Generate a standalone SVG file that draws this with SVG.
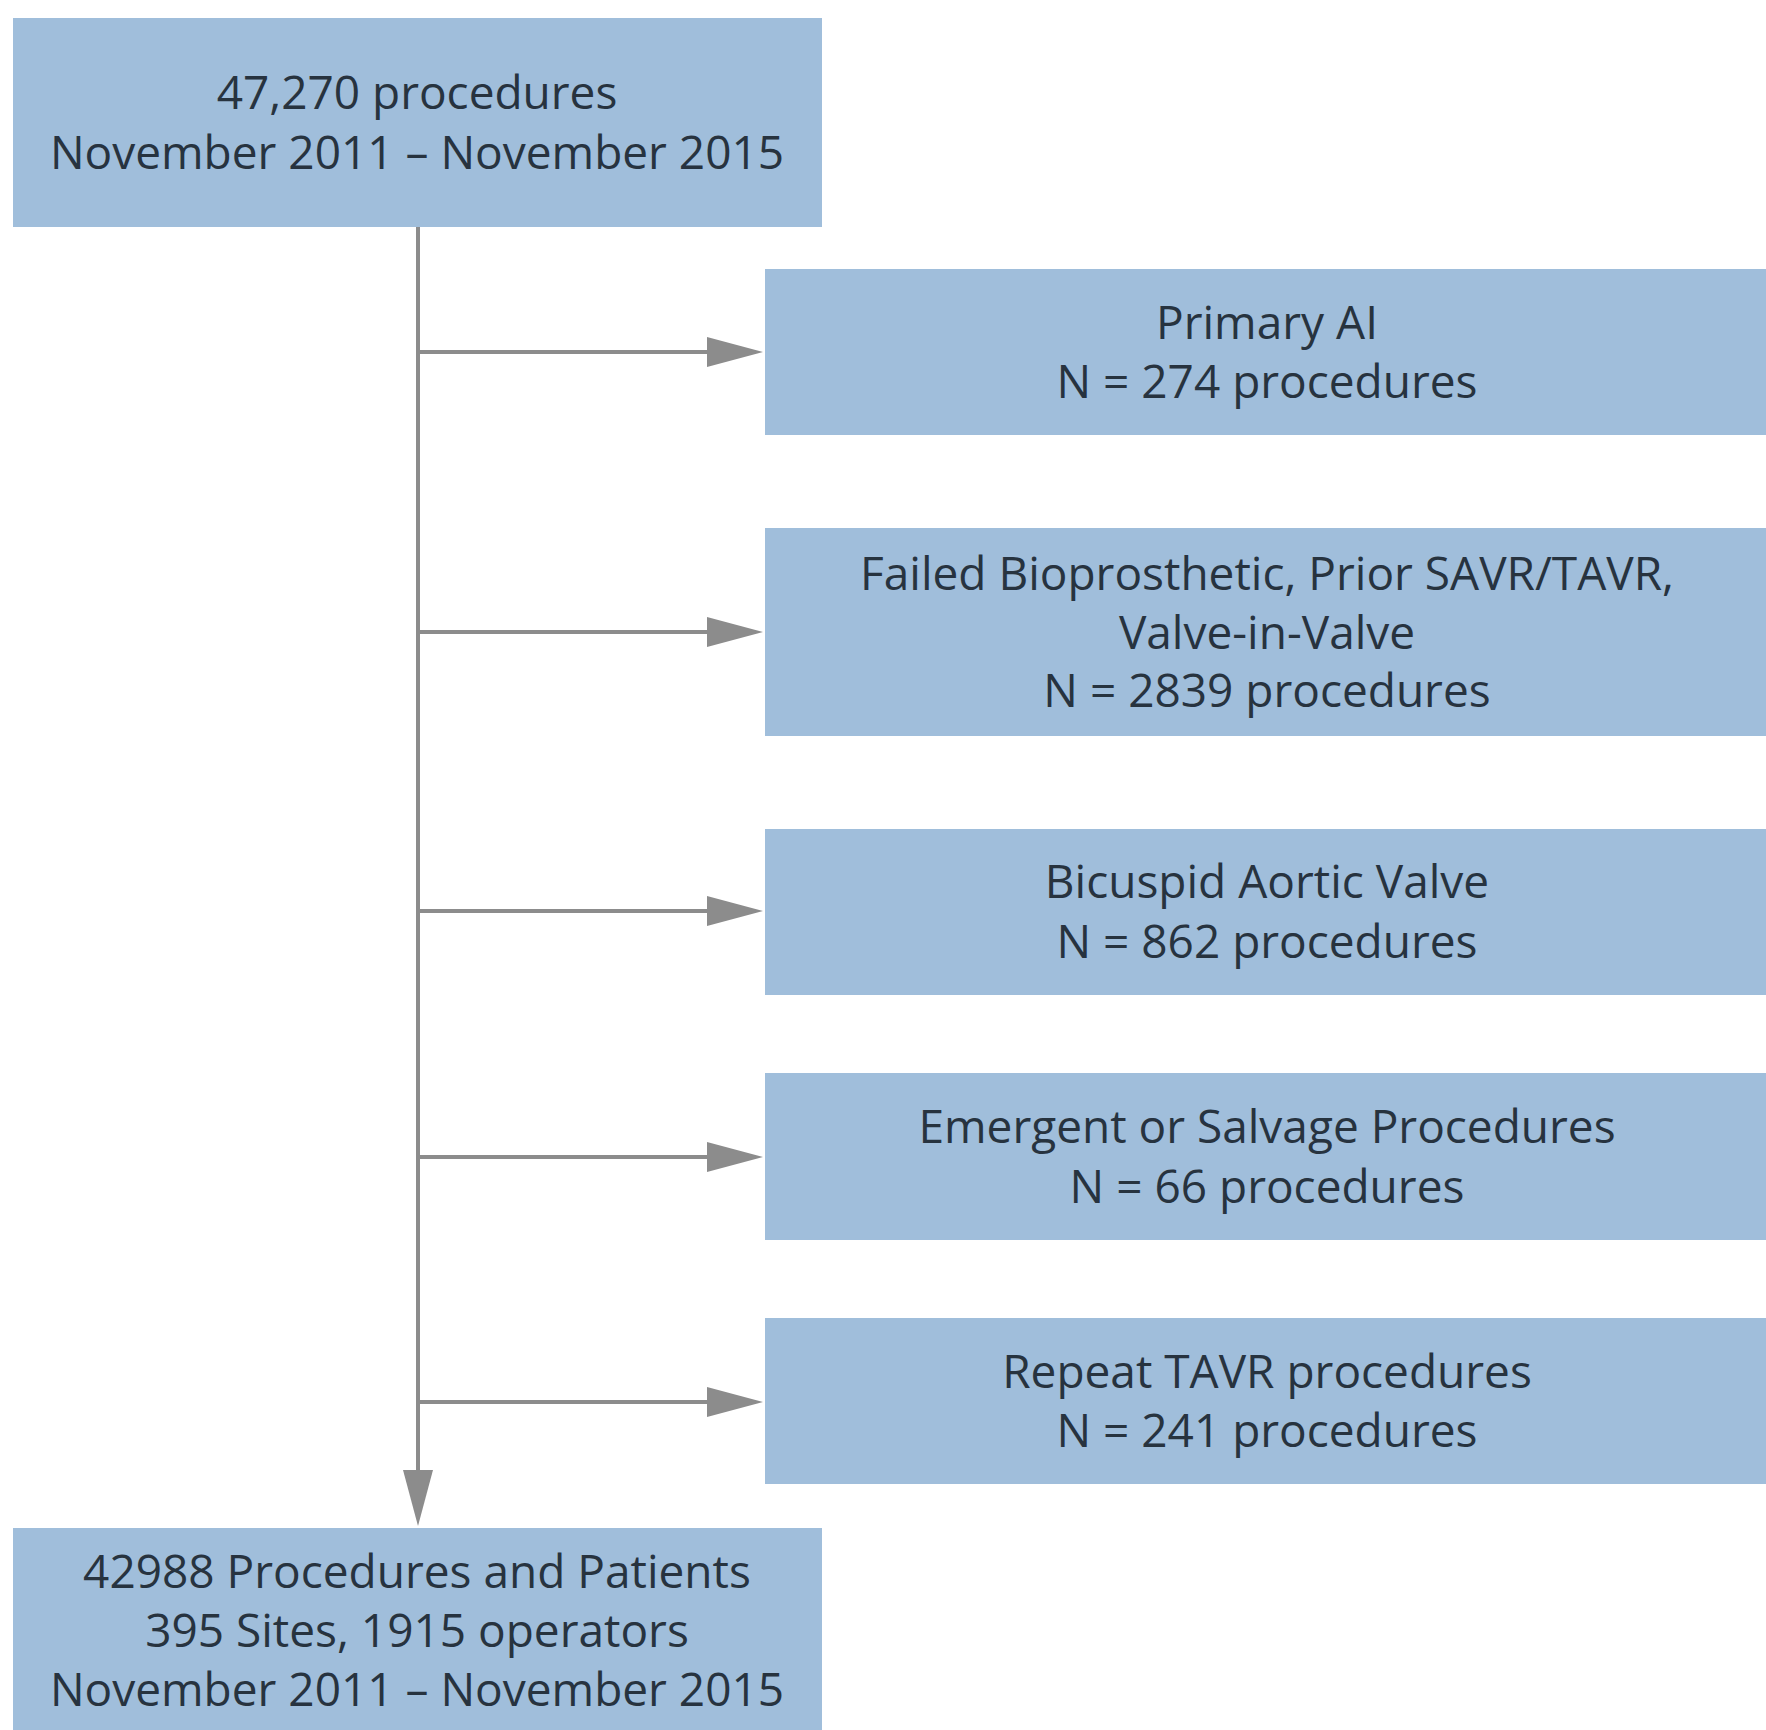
<svg xmlns="http://www.w3.org/2000/svg" width="1766" height="1730" viewBox="0 0 1766 1730">
  <style>
    .box { fill: #a0bedb; }
    .t { font-family: "Open Sans", "Noto Sans", "DejaVu Sans", sans-serif; font-size: 46px; fill: #27333f; text-anchor: middle; }
    .c { stroke: #8c8c8c; stroke-width: 4; fill: none; }
  </style>
  <defs>
    <marker id="arr" markerUnits="userSpaceOnUse" markerWidth="57" markerHeight="31" refX="0" refY="15" orient="auto">
      <path d="M0,0 L56,15 L0,30 z" fill="#8c8c8c"/>
    </marker>
  </defs>
  <rect width="1766" height="1730" fill="#ffffff"/>

  <g id="connectors">
    <line class="c" x1="418" y1="227" x2="418" y2="1470" marker-end="url(#arr)"/>
    <line class="c" x1="418" y1="352" x2="707" y2="352" marker-end="url(#arr)"/>
    <line class="c" x1="418" y1="632" x2="707" y2="632" marker-end="url(#arr)"/>
    <line class="c" x1="418" y1="911" x2="707" y2="911" marker-end="url(#arr)"/>
    <line class="c" x1="418" y1="1157" x2="707" y2="1157" marker-end="url(#arr)"/>
    <line class="c" x1="418" y1="1402" x2="707" y2="1402" marker-end="url(#arr)"/>
  </g>

  <g id="node-start">
    <rect class="box" x="13" y="18" width="809" height="209"/>
    <text class="t" x="417" y="109">47,270 procedures</text>
    <text class="t" x="417" y="169">November 2011 – November 2015</text>
  </g>

  <g id="node-primary-ai">
    <rect class="box" x="765" y="269" width="1001" height="166"/>
    <text class="t" x="1267" y="339">Primary AI</text>
    <text class="t" x="1267" y="398">N = 274 procedures</text>
  </g>

  <g id="node-failed-bioprosthetic">
    <rect class="box" x="765" y="528" width="1001" height="208"/>
    <text class="t" x="1267" y="590">Failed Bioprosthetic, Prior SAVR/TAVR,</text>
    <text class="t" x="1267" y="649">Valve-in-Valve</text>
    <text class="t" x="1267" y="707">N = 2839 procedures</text>
  </g>

  <g id="node-bicuspid">
    <rect class="box" x="765" y="829" width="1001" height="166"/>
    <text class="t" x="1267" y="898">Bicuspid Aortic Valve</text>
    <text class="t" x="1267" y="958">N = 862 procedures</text>
  </g>

  <g id="node-emergent">
    <rect class="box" x="765" y="1073" width="1001" height="167"/>
    <text class="t" x="1267" y="1143">Emergent or Salvage Procedures</text>
    <text class="t" x="1267" y="1203">N = 66 procedures</text>
  </g>

  <g id="node-repeat-tavr">
    <rect class="box" x="765" y="1318" width="1001" height="166"/>
    <text class="t" x="1267" y="1388">Repeat TAVR procedures</text>
    <text class="t" x="1267" y="1447">N = 241 procedures</text>
  </g>

  <g id="node-final">
    <rect class="box" x="13" y="1528" width="809" height="202"/>
    <text class="t" x="417" y="1588">42988 Procedures and Patients</text>
    <text class="t" x="417" y="1647">395 Sites, 1915 operators</text>
    <text class="t" x="417" y="1706">November 2011 – November 2015</text>
  </g>
</svg>
